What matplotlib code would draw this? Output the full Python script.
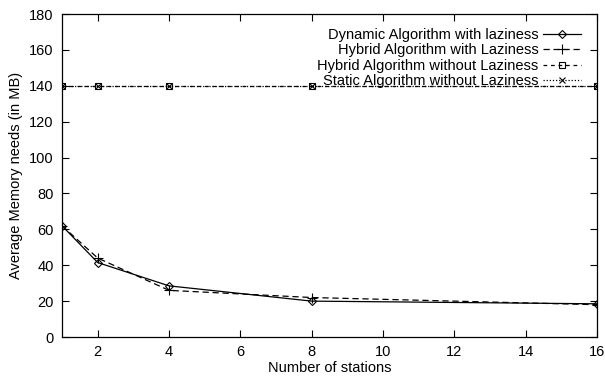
import matplotlib
matplotlib.use("Agg")
import matplotlib.pyplot as plt

plt.rcParams['font.family'] = ['Liberation Sans', 'DejaVu Sans']

stations = [1, 2, 4, 8, 16]
dynamic_lazy = [62, 41.5, 28.5, 20, 18.5]
hybrid_lazy = [62, 44, 26, 22, 18]
hybrid_nolazy = [140, 140, 140, 140, 140]
static_nolazy = [140, 140, 140, 140, 140]
xticks = [2, 4, 6, 8, 10, 12, 14, 16]
yticks = [0, 20, 40, 60, 80, 100, 120, 140, 160, 180]

fig = plt.figure(figsize=(6.05, 3.76), dpi=100)
ax = fig.add_axes([0.1025, 0.1037, 0.8845, 0.859])

ax.plot(stations, dynamic_lazy, color='black', lw=0.9, ls='-', marker='D', ms=4.5,
        mfc='none', mec='black', mew=0.8, label='Dynamic Algorithm with laziness')
ax.plot(stations, hybrid_lazy, color='black', lw=0.9, ls=(0, (5, 3)), marker='+', ms=7,
        mew=0.8, label='Hybrid Algorithm with Laziness')
ax.plot(stations, hybrid_nolazy, color='black', lw=0.9, ls=(0, (3, 3)), marker='s', ms=5,
        mfc='none', mec='black', mew=0.8, label='Hybrid Algorithm without Laziness')
ax.plot(stations, static_nolazy, color='black', lw=0.9, ls=(0, (1, 1.5)), marker='x', ms=5,
        mew=0.8, label='Static Algorithm without Laziness')

ax.set_xlim(1, 16)
ax.set_ylim(0, 180)
ax.set_xticks(xticks)
ax.set_yticks(yticks)
ax.tick_params(direction='in', length=5, width=0.8, top=True, right=True, labelsize=10.5)
ax.tick_params(axis='x', pad=6)
ax.tick_params(axis='y', pad=6)
for s in ax.spines.values():
    s.set_linewidth(0.9)
ax.set_xlabel('Number of stations', fontsize=10.5, labelpad=1)
ax.set_ylabel('Average Memory needs (in MB)', fontsize=10.5, labelpad=4.5)

ax.legend(loc='upper right', bbox_to_anchor=(0.98, 0.975), frameon=False, markerfirst=False,
          fontsize=10.5, handlelength=2.6, labelspacing=0.1, handletextpad=0.3,
          borderaxespad=0)

fig.savefig('out.png', dpi=100)
